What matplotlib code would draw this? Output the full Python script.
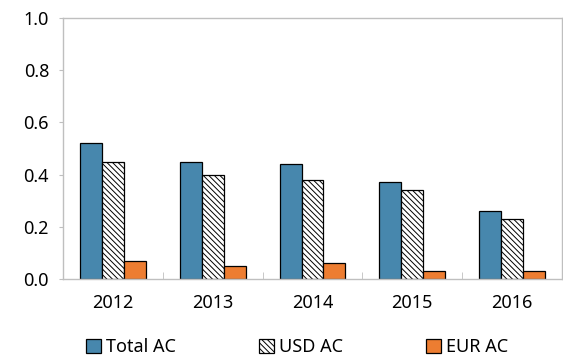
import numpy as np
import matplotlib.pyplot as plt

plt.rcParams['font.family'] = ['Noto Sans', 'DejaVu Sans']
plt.rcParams['hatch.linewidth'] = 0.7

years = ["2012", "2013", "2014", "2015", "2016"]
total_ac = [0.52, 0.45, 0.44, 0.37, 0.26]
usd_ac = [0.45, 0.40, 0.38, 0.34, 0.23]
eur_ac = [0.07, 0.05, 0.06, 0.03, 0.03]

fig = plt.figure(figsize=(5.63, 3.56), dpi=100)
ax = fig.add_axes([63 / 563, 1 - 279 / 356, 499 / 563, 261 / 356])

x = np.arange(len(years))
w = 0.22
ax.bar(x - w, total_ac, w, color="#4787ad", edgecolor="black", linewidth=0.9, label="Total AC")
ax.bar(x, usd_ac, w, color="white", edgecolor="black", hatch="\\" * 6, linewidth=0.9, label="USD AC")
ax.bar(x + w, eur_ac, w, color="#ed7d31", edgecolor="black", linewidth=0.9, label="EUR AC")

ax.set_xlim(-0.5, len(years) - 0.5)
ax.set_ylim(0, 1.0)
ax.set_yticks(np.arange(0, 1.01, 0.2))
ax.set_yticklabels([f"{v:.1f}" for v in np.arange(0, 1.01, 0.2)])
ax.set_xticks(x)
ax.set_xticklabels(years)
ax.set_xticks(np.arange(0.5, len(years) - 0.5, 1), minor=True)

for s in ax.spines.values():
    s.set_color("#bfbfbf")
    s.set_linewidth(1.0)

ax.tick_params(axis="y", direction="out", length=3, color="#bfbfbf", labelsize=13, pad=7)
ax.tick_params(axis="x", which="major", length=0, labelsize=13, pad=11)
ax.tick_params(axis="x", which="minor", direction="in", length=5, color="#bfbfbf")

ax.legend(loc="upper center", bbox_to_anchor=(0.47, -0.165), ncol=3, frameon=False,
          fontsize=13, handlelength=0.8, handleheight=0.8, handletextpad=0.3,
          columnspacing=4.6)

fig.savefig("out.png", dpi=100)
